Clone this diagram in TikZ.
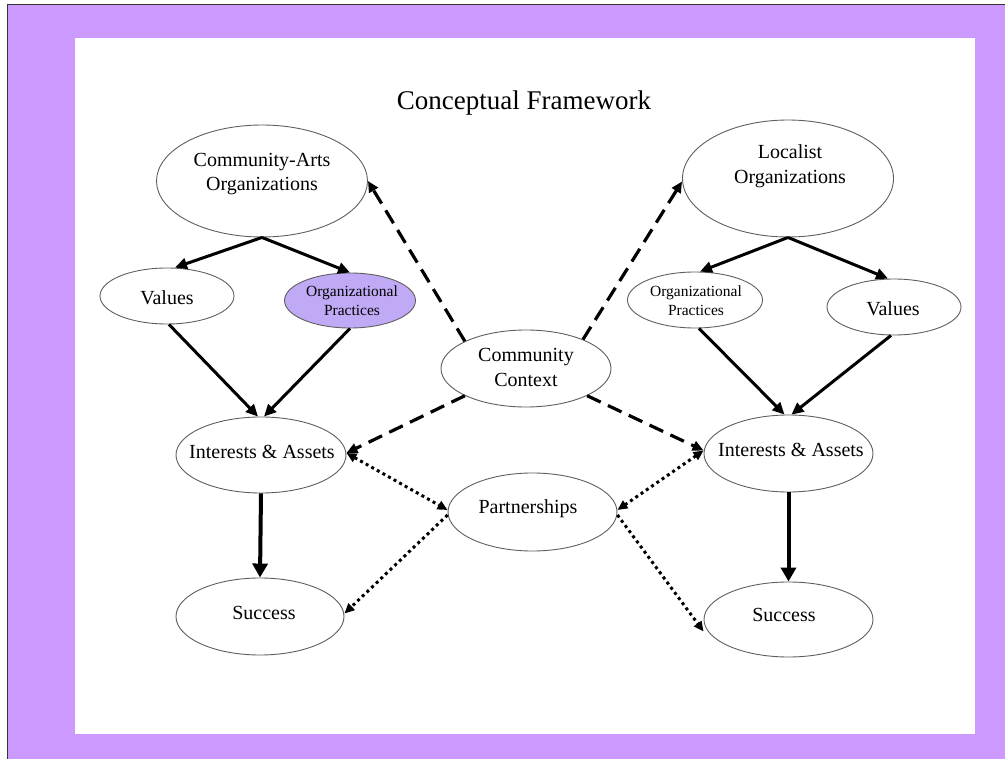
\documentclass[tikz,border=0pt]{standalone}
\usepackage{fontspec}
\setmainfont{Liberation Serif}
\usetikzlibrary{shapes.geometric,arrows.meta}

\definecolor{framepurple}{RGB}{204,153,255}
\definecolor{practicefill}{RGB}{192,170,245}
\definecolor{rimgray}{RGB}{95,95,95}

\tikzset{
  blob/.style={ellipse, draw=rimgray, line width=0.9pt, fill=white, inner sep=0pt},
  txt/.style={font=\fontsize{20}{24.5}\selectfont, align=center, inner sep=0pt},
  smalltxt/.style={font=\fontsize{15.5}{19}\selectfont, align=center, inner sep=0pt},
  flow/.style={line width=3pt, -{Triangle[length=12pt,width=11pt]}},
  mainflow/.style={line width=4pt, -{Triangle[length=14pt,width=15pt]}},
  influence/.style={line width=3.2pt, dash pattern=on 15pt off 8pt, -{Triangle[length=11pt,width=10pt]}},
  link/.style={line width=3pt, dash pattern=on 3pt off 3.4pt, {Triangle[length=10pt,width=9pt]}-{Triangle[length=10pt,width=9pt]}},
  linkone/.style={line width=3pt, dash pattern=on 3pt off 3.4pt, -{Triangle[length=10pt,width=9pt]}}
}

\begin{document}
\begin{tikzpicture}[x=1pt,y=-1pt]
\useasboundingbox (0,0) rectangle (1005,759);

% backdrop: purple mat with a white panel
\fill[white] (0,0) rectangle (1005,759);
\fill[framepurple] (7.5,4.5) rectangle (1005,759);
\draw[line width=1.6pt, black!80] (7.5,759) -- (7.5,4.5) -- (1005,4.5);
\fill[white] (75,38) rectangle (975,733.5);

% title
\node[font=\fontsize{27}{31}\selectfont, inner sep=0pt] (title) at (524,103) {Conceptual Framework};

% ellipses
\node[blob, minimum width=211pt, minimum height=112pt] (ca) at (262,181) {};
\node[blob, minimum width=211pt, minimum height=117pt] (loc) at (788,178.5) {};
\node[blob, minimum width=134pt, minimum height=56pt] (vl) at (167,296) {};
\node[blob, fill=practicefill, minimum width=131pt, minimum height=55pt] (ol) at (350,300.5) {};
\node[blob, minimum width=135pt, minimum height=56pt] (or) at (695,300) {};
\node[blob, minimum width=134pt, minimum height=56pt] (vr) at (894,307) {};
\node[blob, minimum width=170pt, minimum height=77pt] (cc) at (526,368.5) {};
\node[blob, minimum width=170pt, minimum height=76pt] (il) at (261,455) {};
\node[blob, minimum width=169pt, minimum height=77pt] (ir) at (788.5,453.5) {};
\node[blob, minimum width=169pt, minimum height=78pt] (pa) at (532.5,512) {};
\node[blob, minimum width=168pt, minimum height=77pt] (sl) at (260,616.5) {};
\node[blob, minimum width=169pt, minimum height=75pt] (sr) at (788.5,619.5) {};

% labels
\node[txt] (ca-t) at (262,174) {Community-Arts\\Organizations};
\node[txt] (loc-t) at (790,166) {Localist\\Organizations};
\node[txt] (vl-t) at (167,298) {Values};
\node[smalltxt] (ol-t) at (352,301) {Organizational\\Practices};
\node[smalltxt] (or-t) at (696,301) {Organizational\\Practices};
\node[txt] (vr-t) at (893,309) {Values};
\node[txt] (cc-t) at (526,367.5) {Community\\Context};
\node[txt] (il-t) at (262,452) {Interests \& Assets};
\node[txt] (ir-t) at (791,450) {Interests \& Assets};
\node[txt] (pa-t) at (528,509) {Partnerships};
\node[txt] (sl-t) at (264,613) {Success};
\node[txt] (sr-t) at (784,615) {Success};

% organisation to its values and practices
\draw[flow] (ca.south) -- ([xshift=8pt]vl.north);
\draw[flow] (ca.south) -- (ol.north);
\draw[flow] (loc.south) -- ([xshift=5pt]or.north);
\draw[flow] (loc.south) -- ([xshift=-6pt]vr.north);

% values and practices into interests
\draw[flow] ([xshift=2pt]vl.south) -- ([xshift=-3pt]il.north);
\draw[flow] (ol.south) -- ([xshift=3pt]il.north);
\draw[flow] ([xshift=4pt]or.south) -- ([xshift=-4pt]ir.north);
\draw[flow] ([xshift=-3pt]vr.south) -- ([xshift=3pt]ir.north);

% interests lead to success
\draw[mainflow] (il.south) -- (sl.north);
\draw[mainflow] (ir.south) -- (sr.north);

% community context influences
\draw[influence] (cc.156) -- (ca.east);
\draw[influence] (cc.27) -- ([yshift=-3pt]loc.west);
\draw[influence] (cc.204) -- ([yshift=2pt]il.east);
\draw[influence] (cc.336) -- ([yshift=3pt]ir.west);

% partnerships
\draw[link] ([yshift=2pt]il.east) -- ([yshift=2pt]pa.west);
\draw[linkone] ([yshift=-3pt]pa.west) -- ([yshift=3pt]sl.east);
\draw[link] ([yshift=3pt]ir.west) -- ([yshift=2pt]pa.east);
\draw[linkone] ([yshift=-3pt]pa.east) -- ([yshift=-12pt]sr.west);
\end{tikzpicture}
\end{document}
